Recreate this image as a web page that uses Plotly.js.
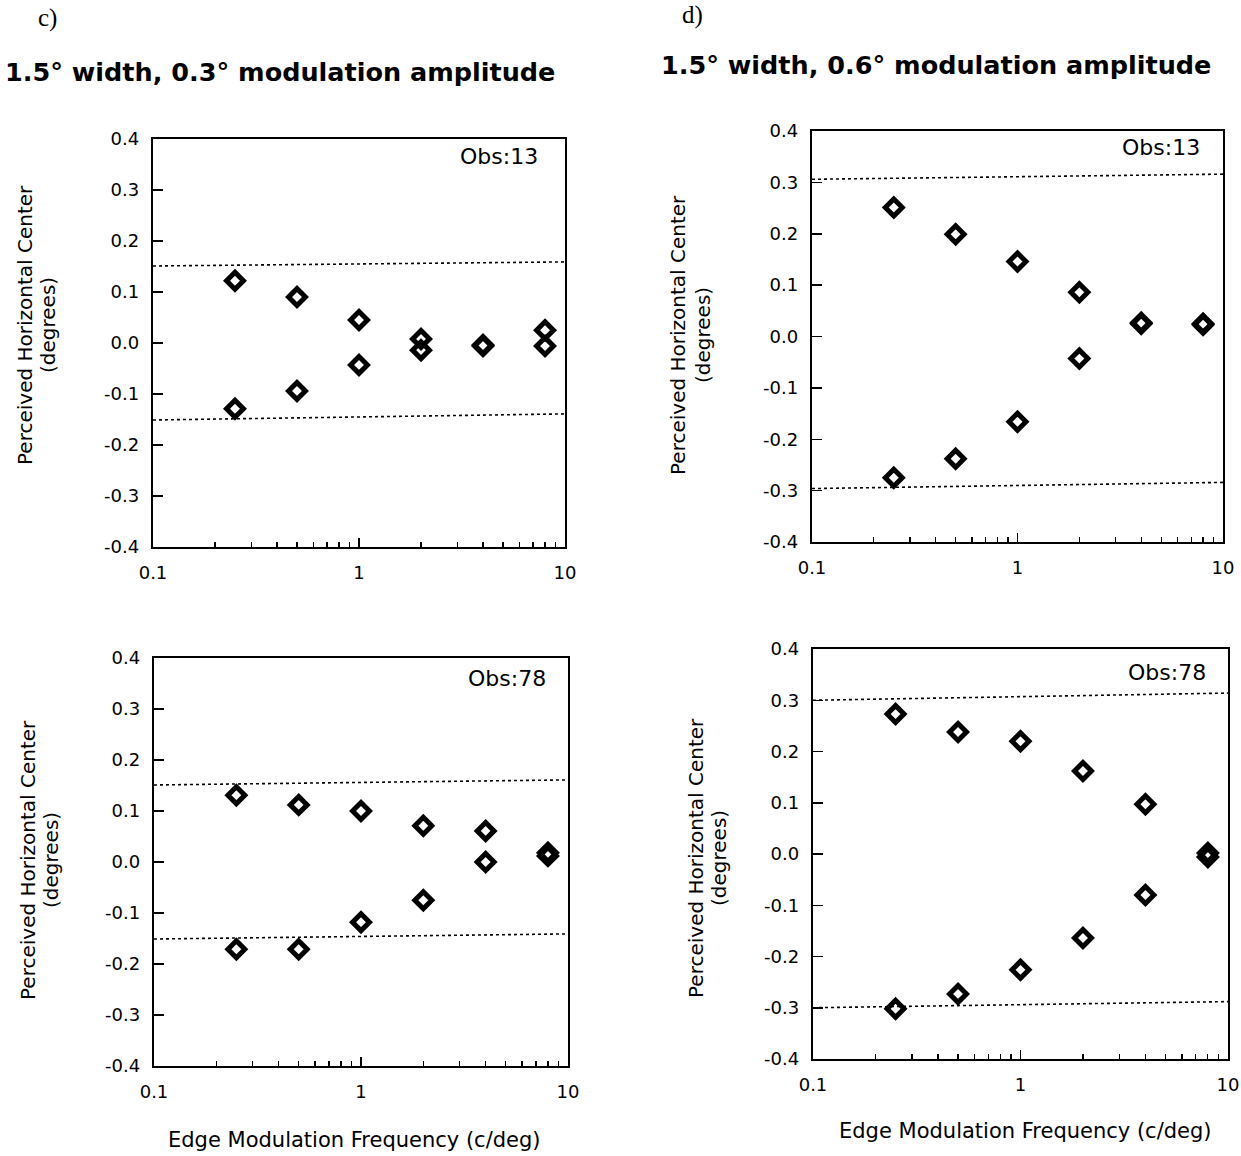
<!DOCTYPE html>
<html>
<head>
<meta charset="utf-8">
<script src="https://cdn.plot.ly/plotly-3.0.1.min.js"></script>
<style>html,body{margin:0;padding:0;background:#fff;}#chart{width:1241px;height:1156px;}</style>
</head>
<body>
<div id="chart"></div>
<script>
// Spatial frequencies (c/deg)
const freq = [0.25, 0.5, 1, 2, 4, 8];

// Panel c, Obs:13 (0.3 deg amplitude)
const c13_upper = [0.122, 0.090, 0.045, 0.008, -0.004, 0.025];
const c13_lower = [-0.129, -0.094, -0.043, -0.014, -0.006, -0.006];
const c13_refTop = [0.151, 0.159];
const c13_refBot = [-0.151, -0.139];

// Panel c, Obs:78
const c78_upper = [0.131, 0.112, 0.100, 0.071, 0.061, 0.018];
const c78_lower = [-0.171, -0.171, -0.118, -0.075, 0.000, 0.012];
const c78_refTop = [0.151, 0.161];
const c78_refBot = [-0.151, -0.141];

// Panel d, Obs:13 (0.6 deg amplitude)
const d13_upper = [0.251, 0.199, 0.146, 0.086, 0.027, 0.025];
const d13_lower = [-0.275, -0.238, -0.166, -0.043, 0.025, 0.023];
const d13_refTop = [0.306, 0.316];
const d13_refBot = [-0.296, -0.284];

// Panel d, Obs:78
const d78_upper = [0.273, 0.238, 0.220, 0.162, 0.097, 0.002];
const d78_lower = [-0.302, -0.273, -0.226, -0.164, -0.080, -0.006];
const d78_refTop = [0.300, 0.314];
const d78_refBot = [-0.300, -0.288];

const refX = [0.1, 10];

const xTickVals = [0.1, 1, 10];
const xTickText = ["0.1", "1", "10"];
const xMinor = [0.2,0.3,0.4,0.5,0.6,0.7,0.8,0.9,2,3,4,5,6,7,8,9];
const yTickVals = [-0.4,-0.3,-0.2,-0.1,0,0.1,0.2,0.3,0.4];
const yTickText = ["-0.4","-0.3","-0.2","-0.1","0.0","0.1","0.2","0.3","0.4"];

const W = 1241, H = 1156;
const px = x => x / W;
const py = y => 1 - y / H;

const panels = [
  {up: c13_upper, lo: c13_lower, rt: c13_refTop, rb: c13_refBot, box: [153, 565, 139, 547], obs: "Obs:13", obsPos: [540, 156]},
  {up: c78_upper, lo: c78_lower, rt: c78_refTop, rb: c78_refBot, box: [154, 568, 658, 1066], obs: "Obs:78", obsPos: [548, 678]},
  {up: d13_upper, lo: d13_lower, rt: d13_refTop, rb: d13_refBot, box: [812, 1223, 131, 542], obs: "Obs:13", obsPos: [1202, 147]},
  {up: d78_upper, lo: d78_lower, rt: d78_refTop, rb: d78_refBot, box: [813, 1228, 649, 1059], obs: "Obs:78", obsPos: [1208, 672]}
];

const FONT = "DejaVu Sans, Liberation Sans, Arial, sans-serif";
const traces = [];
const layout = {
  width: W, height: H,
  margin: {l: 0, r: 0, t: 0, b: 0},
  paper_bgcolor: "#fff", plot_bgcolor: "#fff",
  showlegend: false,
  font: {family: FONT, color: "#000", size: 18},
  annotations: []
};

const marker = {symbol: "diamond-open", size: 13, color: "#000", line: {width: 5, color: "#000"}};
const dashLine = {color: "#000", width: 1.6, dash: "3px,3px"};

panels.forEach((p, i) => {
  const n = i + 1;
  const xa = "x" + (n === 1 ? "" : n), ya = "y" + (n === 1 ? "" : n);
  traces.push({x: refX, y: p.rt, xaxis: xa, yaxis: ya, mode: "lines", line: dashLine, hoverinfo: "skip"});
  traces.push({x: refX, y: p.rb, xaxis: xa, yaxis: ya, mode: "lines", line: dashLine, hoverinfo: "skip"});
  traces.push({x: freq, y: p.up, xaxis: xa, yaxis: ya, mode: "markers", marker: marker});
  traces.push({x: freq, y: p.lo, xaxis: xa, yaxis: ya, mode: "markers", marker: marker});
  const [l, r, t, b] = p.box;
  layout["xaxis" + (n === 1 ? "" : n)] = {
    type: "log", range: [-1, 1], domain: [px(l), px(r)], anchor: ya,
    showline: true, mirror: true, linecolor: "#000", linewidth: 2.2,
    ticks: "inside", ticklen: 9, tickwidth: 1.5, tickcolor: "#000",
    tickmode: "array", tickvals: xTickVals, ticktext: xTickText,
    tickfont: {size: 18}, ticklabelstandoff: 8,
    minor: {tickmode: "array", tickvals: xMinor, ticks: "inside", ticklen: 5, tickwidth: 1.2, tickcolor: "#000", showgrid: false},
    showgrid: false, zeroline: false, fixedrange: true
  };
  layout["yaxis" + (n === 1 ? "" : n)] = {
    range: [-0.4, 0.4], domain: [py(b), py(t)], anchor: xa,
    showline: true, mirror: true, linecolor: "#000", linewidth: 2.2,
    ticks: "inside", ticklen: 10, tickwidth: 1.5, tickcolor: "#000",
    tickmode: "array", tickvals: yTickVals, ticktext: yTickText,
    tickfont: {size: 18}, ticklabelstandoff: 8,
    showgrid: false, zeroline: false, fixedrange: true
  };
  layout.annotations.push({
    text: p.obs, xref: "paper", yref: "paper", x: px(p.obsPos[0]), y: py(p.obsPos[1]),
    xanchor: "right", yanchor: "middle", showarrow: false, font: {size: 22}
  });
});

// Y-axis titles (two lines each)
const yTitles = [
  {x1: 25, x2: 48, y: 325},
  {x1: 28, x2: 51, y: 860},
  {x1: 678, x2: 703, y: 335},
  {x1: 696, x2: 719, y: 858}
];
yTitles.forEach(t => {
  layout.annotations.push({text: "Perceived Horizontal Center", xref: "paper", yref: "paper",
    x: px(t.x1), y: py(t.y), xanchor: "center", yanchor: "middle", textangle: -90, showarrow: false, font: {size: 20}});
  layout.annotations.push({text: "(degrees)", xref: "paper", yref: "paper",
    x: px(t.x2), y: py(t.y), xanchor: "center", yanchor: "middle", textangle: -90, showarrow: false, font: {size: 20}});
});

// X-axis titles
layout.annotations.push({text: "Edge Modulation Frequency (c/deg)", xref: "paper", yref: "paper",
  x: px(354), y: py(1140), xanchor: "center", yanchor: "middle", showarrow: false, font: {size: 21}});
layout.annotations.push({text: "Edge Modulation Frequency (c/deg)", xref: "paper", yref: "paper",
  x: px(1025), y: py(1131), xanchor: "center", yanchor: "middle", showarrow: false, font: {size: 21}});

// Panel headings
layout.annotations.push({text: "c)", xref: "paper", yref: "paper", x: px(36), y: py(18),
  xanchor: "left", yanchor: "middle", showarrow: false, font: {family: "Liberation Serif, serif", size: 25}});
layout.annotations.push({text: "d)", xref: "paper", yref: "paper", x: px(680), y: py(15),
  xanchor: "left", yanchor: "middle", showarrow: false, font: {family: "Liberation Serif, serif", size: 25}});
layout.annotations.push({text: "<b>1.5° width, 0.3° modulation amplitude</b>", xref: "paper", yref: "paper",
  x: px(280), y: py(72), xanchor: "center", yanchor: "middle", showarrow: false, font: {size: 25.5}});
layout.annotations.push({text: "<b>1.5° width, 0.6° modulation amplitude</b>", xref: "paper", yref: "paper",
  x: px(936), y: py(65), xanchor: "center", yanchor: "middle", showarrow: false, font: {size: 25.5}});

Plotly.newPlot("chart", traces, layout, {staticPlot: true, displayModeBar: false});
</script>
</body>
</html>
